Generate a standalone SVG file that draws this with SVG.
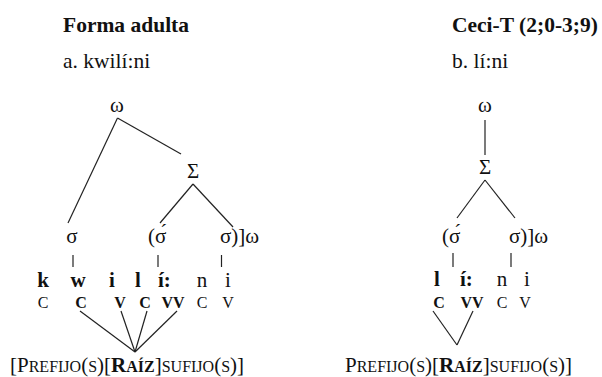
<svg xmlns="http://www.w3.org/2000/svg" width="602" height="377" viewBox="0 0 602 377">
  <style>
    text { font-family: "Liberation Serif", "Times New Roman", serif; fill: #111; }
    .title { font-size: 21.5px; font-weight: bold; }
    .sub { font-size: 21.5px; }
    .sym { font-size: 21px; }
    .seg { font-size: 21px; font-weight: bold; }
    .segr { font-size: 21px; }
    .cv { font-size: 16px; }
    .cvb { font-size: 16px; font-weight: bold; }
    .morph { font-size: 21px; }
    .sc { font-size: 16px; }
    .b { font-weight: bold; }
    .edge { stroke: #222; stroke-width: 1.2; fill: none; }
  </style>
  <rect width="602" height="377" fill="#fff"/>

  <!-- headings -->
  <g id="heading-a">
    <text class="title" x="63" y="32">Forma adulta</text>
    <text class="sub" x="63" y="68">a. kwilí:ni</text>
  </g>
  <g id="heading-b">
    <text class="title" x="452" y="32">Ceci-T (2;0-3;9)</text>
    <text class="sub" x="452" y="68">b. lí:ni</text>
  </g>

  <!-- tree a: prosodic nodes -->
  <g id="a-omega"><text class="sym" x="117" y="112" text-anchor="middle">ω</text></g>
  <g id="a-foot"><text class="sym" x="193" y="178" text-anchor="middle">Σ</text></g>
  <g id="a-syl1"><text class="sym" x="72" y="243" text-anchor="middle">σ</text></g>
  <g id="a-syl2"><text class="sym" x="148" y="243">(σ́</text></g>
  <g id="a-syl3"><text class="sym" x="220" y="243">σ)]ω</text></g>

  <!-- tree a: segments -->
  <g id="a-segments">
    <text class="seg" x="43" y="287" text-anchor="middle">k</text>
    <text class="seg" x="78" y="287" text-anchor="middle">w</text>
    <text class="seg" x="112" y="287" text-anchor="middle">i</text>
    <text class="seg" x="138" y="287" text-anchor="middle">l</text>
    <text class="seg" x="158" y="287">í:</text>
    <text class="segr" x="202" y="287" text-anchor="middle">n</text>
    <text class="segr" x="228" y="287" text-anchor="middle">i</text>
  </g>
  <g id="a-skeleton">
    <text class="cv" x="43" y="308" text-anchor="middle">C</text>
    <text class="cvb" x="81" y="308" text-anchor="middle">C</text>
    <text class="cvb" x="120" y="308" text-anchor="middle">V</text>
    <text class="cvb" x="145" y="308" text-anchor="middle">C</text>
    <text class="cvb" x="173" y="308" text-anchor="middle">VV</text>
    <text class="cv" x="202" y="308" text-anchor="middle">C</text>
    <text class="cv" x="228" y="308" text-anchor="middle">V</text>
  </g>
  <g id="a-morphology">
    <text class="morph" x="10" y="372">[P<tspan class="sc">REFIJO</tspan>(<tspan class="sc">S</tspan>)[<tspan class="b">R<tspan class="sc">AÍZ</tspan></tspan>]<tspan class="sc">SUFIJO</tspan>(<tspan class="sc">S</tspan>)]</text>
  </g>

  <!-- tree b: prosodic nodes -->
  <g id="b-omega"><text class="sym" x="485" y="112" text-anchor="middle">ω</text></g>
  <g id="b-foot"><text class="sym" x="485" y="174" text-anchor="middle">Σ</text></g>
  <g id="b-syl1"><text class="sym" x="442" y="243">(σ́</text></g>
  <g id="b-syl2"><text class="sym" x="509" y="243">σ)]ω</text></g>

  <!-- tree b: segments -->
  <g id="b-segments">
    <text class="seg" x="437" y="286" text-anchor="middle">l</text>
    <text class="seg" x="460" y="286">í:</text>
    <text class="segr" x="502" y="286" text-anchor="middle">n</text>
    <text class="segr" x="527" y="286" text-anchor="middle">i</text>
  </g>
  <g id="b-skeleton">
    <text class="cvb" x="439" y="308" text-anchor="middle">C</text>
    <text class="cvb" x="472" y="308" text-anchor="middle">VV</text>
    <text class="cv" x="502" y="308" text-anchor="middle">C</text>
    <text class="cv" x="525" y="308" text-anchor="middle">V</text>
  </g>
  <g id="b-morphology">
    <text class="morph" x="345" y="372">P<tspan class="sc">REFIJO</tspan>(<tspan class="sc">S</tspan>)[<tspan class="b">R<tspan class="sc">AÍZ</tspan></tspan>]<tspan class="sc">SUFIJO</tspan>(<tspan class="sc">S</tspan>)]</text>
  </g>

  <!-- association lines -->
  <g id="connectors" class="edge">
    <!-- tree a -->
    <line x1="117.5" y1="118" x2="68" y2="223"/>
    <line x1="117.5" y1="118" x2="181" y2="154"/>
    <line x1="193" y1="184" x2="160" y2="223"/>
    <line x1="193" y1="184" x2="233" y2="227"/>
    <line x1="73" y1="255" x2="73" y2="267"/>
    <line x1="158" y1="255" x2="158" y2="267"/>
    <line x1="221.5" y1="255" x2="221.5" y2="267"/>
    <line x1="80" y1="311" x2="135" y2="352"/>
    <line x1="121" y1="311" x2="135" y2="352"/>
    <line x1="147" y1="311" x2="135" y2="352"/>
    <line x1="177" y1="311" x2="135" y2="352"/>
    <!-- tree b -->
    <line x1="485" y1="120" x2="485" y2="155"/>
    <line x1="485" y1="180" x2="457" y2="218"/>
    <line x1="485" y1="180" x2="515" y2="218"/>
    <line x1="453" y1="253" x2="453" y2="267"/>
    <line x1="511" y1="253" x2="511" y2="267"/>
    <line x1="433" y1="311" x2="457" y2="345"/>
    <line x1="473" y1="311" x2="457" y2="345"/>
  </g>
</svg>
